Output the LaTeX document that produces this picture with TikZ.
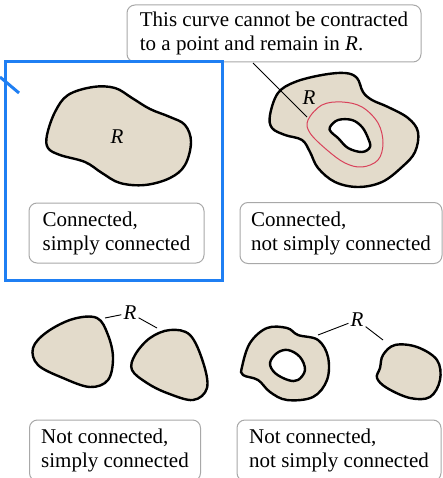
\documentclass[tikz,border=0pt]{standalone}
\usepackage{fontspec}
\setmainfont{Liberation Serif}
\definecolor{beige}{HTML}{E3DBCB}
\definecolor{boxgray}{HTML}{A8A8A8}
\definecolor{selblue}{HTML}{1F7FF3}
\definecolor{curvered}{HTML}{D9415A}
\begin{document}
\begin{tikzpicture}[x=1pt,y=-1pt,
  lbl/.style={draw=boxgray, line width=1pt, rounded corners=8pt, align=left,
    font=\fontsize{21}{24}\selectfont, inner sep=0pt, anchor=center},
  blob/.style={fill=beige, draw=black, line width=2.4pt},
  hole/.style={fill=white, draw=black, line width=2.4pt},
  lead/.style={draw=black, line width=0.9pt},
  rlab/.style={font=\fontsize{21}{24}\selectfont\itshape, inner sep=2pt}]
\useasboundingbox (0,0) rectangle (443,478);
\clip (0,0) rectangle (443,478);

% ---------- callout box ----------
\node[lbl, minimum width=294pt, minimum height=57pt]
  (callout) at (274,33.5) {This curve cannot be contracted\\to a point and remain in \textit{R}.};

% ---------- panel 1 ----------
\draw[blob] plot[smooth cycle, tension=0.6] coordinates {
  (47,135) (55,112) (68,95) (93,87) (115,88) (132,98) (150,109) (170,117)
  (185,125) (191,142) (185,165) (170,178) (145,185) (120,183) (102,173)
  (85,162) (60,155) (48,148)};
\node[rlab] (R1) at (117,137) {R};
\node[lbl, minimum width=175pt, minimum height=60pt]
  (b1) at (116.5,233) {Connected,\\simply connected};

% ---------- panel 2 ----------
\draw[blob] plot[smooth cycle, tension=0.6] coordinates {
  (270,115) (278,93) (295,82) (322,75) (345,73) (357,78) (363,92) (372,100)
  (388,107) (408,118) (418,132) (415,152) (402,167) (382,182) (358,187)
  (335,182) (318,168) (310,152) (302,140) (285,135) (272,128)};
\draw[hole] plot[smooth cycle, tension=0.6] coordinates {
  (330,127) (338,120) (352,120) (362,127) (368,138) (370,147) (362,152)
  (348,148) (338,138) (331,132)};
\draw[curvered, line width=1pt] plot[smooth cycle, tension=0.6] coordinates {
  (308,120) (322,105) (342,102) (362,107) (378,123) (383,143) (378,160)
  (362,167) (345,163) (327,150) (310,133)};
\node[rlab] (R2) at (309,98) {R};
\coordinate (cs) at (253,63);
\coordinate (ce) at (307,117);
\draw[lead] (cs) -- (ce);
\node[lbl, minimum width=202pt, minimum height=61pt]
  (b2) at (341,233) {Connected,\\not simply connected};

% ---------- panel 3 ----------
\draw[blob] plot[smooth cycle, tension=0.6] coordinates {
  (33,348) (47,332) (73,319) (97,318) (108,335) (113,358) (108,380) (90,387)
  (63,378) (38,365)};
\draw[blob] plot[smooth cycle, tension=0.6] coordinates {
  (132,370) (135,355) (150,338) (170,330) (190,335) (203,362) (207,388)
  (193,400) (167,393) (147,383)};
\node[rlab] (R3) at (130,313) {R};
\coordinate (l3a) at (105,318);
\coordinate (l3b) at (157,328);
\draw[lead] (R3) -- (l3a);
\draw[lead] (R3) -- (l3b);
\node[lbl, minimum width=171pt, minimum height=61pt]
  (b3) at (115,450.5) {Not connected,\\simply connected};

% ---------- panel 4 ----------
\draw[blob] plot[smooth cycle, tension=0.6] coordinates {
  (242,367) (250,343) (267,328) (287,328) (298,335) (318,340) (328,357)
  (327,380) (313,397) (287,400) (270,392) (258,380) (243,375)};
\draw[hole] plot[smooth cycle, tension=0.6] coordinates {
  (270,363) (277,353) (288,350) (300,357) (305,370) (298,380) (288,380) (275,373)};
\draw[blob] plot[smooth cycle, tension=0.6] coordinates {
  (383,355) (395,345) (417,347) (437,360) (440,380) (430,397) (410,398)
  (387,388) (377,378) (380,368)};
\node[rlab] (R4) at (357,320) {R};
\coordinate (l4a) at (318,335);
\coordinate (l4b) at (383,340);
\draw[lead] (R4) -- (l4a);
\draw[lead] (R4) -- (l4b);
\node[lbl, minimum width=204pt, minimum height=61pt]
  (b4) at (339,450.5) {Not connected,\\not simply connected};

% ---------- blue selection ----------
\draw[selblue, line width=3pt] (5,62) rectangle (222,280);
\coordinate (m1) at (0,77);
\coordinate (m2) at (19,93);
\draw[selblue, line width=3pt] (m1) -- (m2);
\end{tikzpicture}
\end{document}
